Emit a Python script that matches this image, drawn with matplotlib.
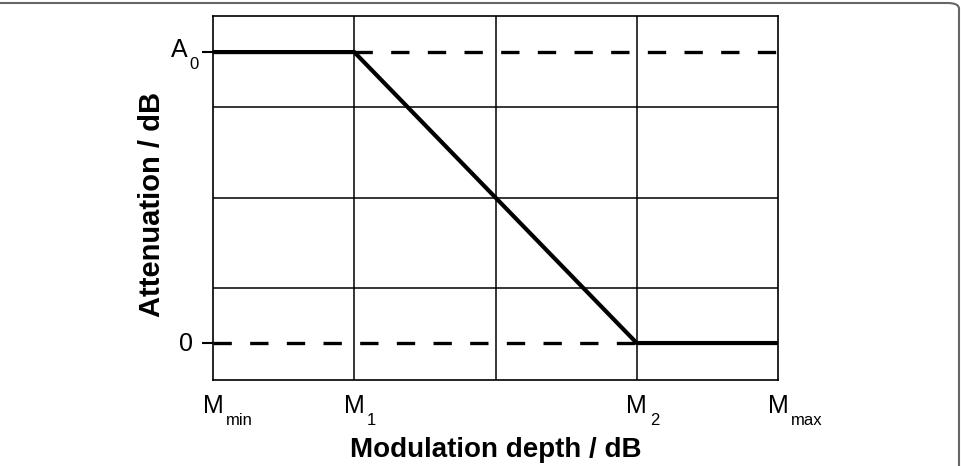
import matplotlib.pyplot as plt
from matplotlib.patches import FancyBboxPatch

plt.rcParams['font.family'] = ['Liberation Sans', 'DejaVu Sans']

# piecewise attenuation curve (x in units of the grid, y normalised to A0)
curve_x = [0, 1, 3, 4]
curve_y = [1, 1, 0, 0]

x_ticks = [0, 1, 3, 4]
x_main = ['M', 'M', 'M', 'M']
x_subs = ['min', '1', '2', 'max']
y_ticks = [0, 1]
y_main = ['0', 'A']
y_subs = ['', '0']

grid_x = [1, 2, 3]
grid_y = [0.1875, 0.5, 0.8125]

fig = plt.figure(figsize=(9.61, 4.66), dpi=100)
ax = fig.add_axes([213 / 961, 1 - 380 / 466, 565 / 961, 364 / 466])

# outer rounded panel frame
frame = FancyBboxPatch((-0.05, -0.1), 0.05 + 959 / 961, 0.1 + 1 - 3 / 466,
                       boxstyle='round,pad=0,rounding_size=0.012',
                       transform=fig.transFigure, fill=False,
                       edgecolor='#666666', linewidth=1.5, zorder=-1)
fig.patches.append(frame)

for gx in grid_x:
    ax.axvline(gx, color='black', linewidth=1.1, zorder=1)
for gy in grid_y:
    ax.axhline(gy, color='black', linewidth=1.1, zorder=1)

ax.plot([1, 4], [1, 1], color='black', linewidth=2.4, dashes=(5.5, 5.5), zorder=2)
ax.plot([0, 3], [0, 0], color='black', linewidth=2.4, dashes=(5.5, 5.5), zorder=2)
ax.plot(curve_x, curve_y, color='black', linewidth=3, solid_joinstyle='miter', zorder=3)

ax.set_xlim(0, 4)
ax.set_ylim(-0.127, 1.124)
for s in ax.spines.values():
    s.set_linewidth(1.2)

ax.set_xticks(x_ticks)
ax.set_xticklabels([])
ax.set_yticks(y_ticks)
ax.set_yticklabels([])
ax.tick_params(axis='x', length=0)
ax.tick_params(axis='y', length=8, width=1.5)

# tick labels with dropped subscripts
xt = ax.get_xaxis_transform()
for x, m, s in zip(x_ticks, x_main, x_subs):
    ax.annotate(m, (x, 0), xycoords=xt, xytext=(0, -33), textcoords='offset pixels',
                ha='center', va='baseline', fontsize=18)
    ax.annotate(s, (x, 0), xycoords=xt, xytext=(13, -45), textcoords='offset pixels',
                ha='left', va='baseline', fontsize=12)

yt = ax.get_yaxis_transform()
for y, m, s in zip(y_ticks, y_main, y_subs):
    if s:
        ax.annotate(m, (0, y), xycoords=yt, xytext=(-25, -5), textcoords='offset pixels',
                    ha='right', va='baseline', fontsize=18)
        ax.annotate(s, (0, y), xycoords=yt, xytext=(-14, -17), textcoords='offset pixels',
                    ha='right', va='baseline', fontsize=12)
    else:
        ax.annotate(m, (0, y), xycoords=yt, xytext=(-20, -8), textcoords='offset pixels',
                    ha='right', va='baseline', fontsize=18)

ax.set_xlabel('Modulation depth / dB', fontsize=20, fontweight='bold', va='baseline')
ax.xaxis.set_label_coords(0.501, -77 / 364)
ax.set_ylabel('Attenuation / dB', fontsize=21, fontweight='bold', va='center')
ax.yaxis.set_label_coords(-61 / 565, 176 / 364)

fig.savefig('out.png', dpi=100)
